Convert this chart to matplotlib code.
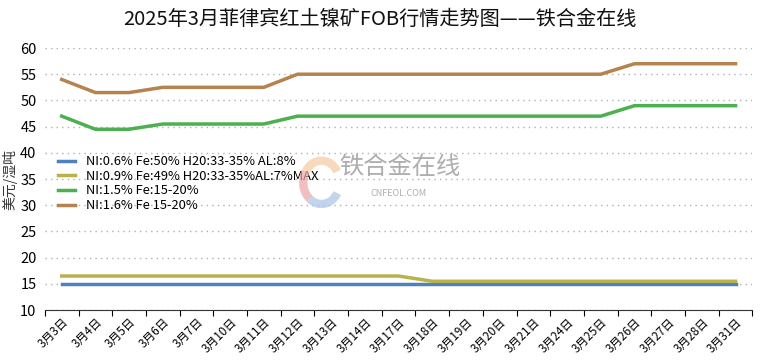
import numpy as np
import matplotlib.pyplot as plt
from matplotlib.patches import Arc

plt.rcParams['font.family'] = ['Noto Sans CJK SC', 'DejaVu Sans']

dates = ['3月3日', '3月4日', '3月5日', '3月6日', '3月7日', '3月10日', '3月11日',
         '3月12日', '3月13日', '3月14日', '3月17日', '3月18日', '3月19日', '3月20日',
         '3月21日', '3月24日', '3月25日', '3月26日', '3月27日', '3月28日', '3月31日']

ni06 = [15] * 21
ni09 = [16.5] * 11 + [15.5] * 10
ni15 = [47, 44.5, 44.5, 45.5, 45.5, 45.5, 45.5] + [47] * 10 + [49] * 4
ni16 = [54, 51.5, 51.5, 52.5, 52.5, 52.5, 52.5] + [55] * 10 + [57] * 4

labels = ['NI:0.6% Fe:50% H20:33-35% AL:8%',
          'NI:0.9% Fe:49% H20:33-35%AL:7%MAX',
          'NI:1.5% Fe:15-20%',
          'NI:1.6% Fe 15-20%']
colors = ['#4f81bd', '#b8b24a', '#4cb050', '#b5834f']

fig = plt.figure(figsize=(7.6, 3.61), dpi=100)
ax = fig.add_axes([0.059, 0.141, 0.931, 0.726])

x = np.arange(len(dates))
for y, lab, c in zip([ni06, ni09, ni15, ni16], labels, colors):
    ax.plot(x, y, color=c, lw=2.5, label=lab, solid_joinstyle='miter')

ax.set_xlim(-0.5, len(dates) - 0.5)
ax.set_ylim(10, 60)
ax.set_yticks(range(10, 61, 5))
ax.set_xticks(np.arange(-0.5, len(dates), 1), minor=False)
ax.set_xticklabels([])
ax.set_xticks(x, minor=True)
ax.set_xticklabels(dates, minor=True, rotation=45, ha='right', va='top',
                   rotation_mode='anchor', fontsize=8.5)
ax.tick_params(axis='x', which='minor', length=0, pad=4)
ax.tick_params(axis='x', which='major', length=4, direction='out')
ax.tick_params(axis='y', length=0, labelsize=10.5, pad=6)

ax.grid(axis='y', color='#b0b0b0', linestyle=(0, (1, 3)), lw=1)
for s in ['top', 'right', 'left']:
    ax.spines[s].set_visible(False)
ax.spines['bottom'].set_color('#333333')

ax.set_ylabel('美元/湿吨', fontsize=10, color='#333333', labelpad=2)

ax.legend(loc='upper left', bbox_to_anchor=(0.012, 0.61), frameon=False,
          fontsize=9.3, handlelength=1.3, labelspacing=0.12, borderaxespad=0)

# watermark
fig.text(0.447, 0.518, '铁合金在线', fontsize=17.5, color='#9a9a9a', alpha=0.8)
fig.text(0.487, 0.458, 'CNFEOL.COM', fontsize=6.5, color='#9a9a9a', alpha=0.8)
wax = fig.add_axes([0.393, 0.42, 0.06, 0.15])
wax.set_xlim(-1, 1)
wax.set_ylim(-1, 1)
wax.axis('off')
wax.add_patch(Arc((0, 0), 1.6, 1.6, theta1=30, theta2=150, lw=6, color='#f5c9a0', alpha=0.7))
wax.add_patch(Arc((0, 0), 1.6, 1.6, theta1=150, theta2=230, lw=6, color='#eaa5a5', alpha=0.7))
wax.add_patch(Arc((0, 0), 1.6, 1.6, theta1=230, theta2=330, lw=6, color='#a8c4e6', alpha=0.7))

fig.suptitle('2025年3月菲律宾红土镍矿FOB行情走势图——铁合金在线', y=0.975,
             fontsize=14.5, color='#111111')

fig.savefig('out.png', dpi=100)
